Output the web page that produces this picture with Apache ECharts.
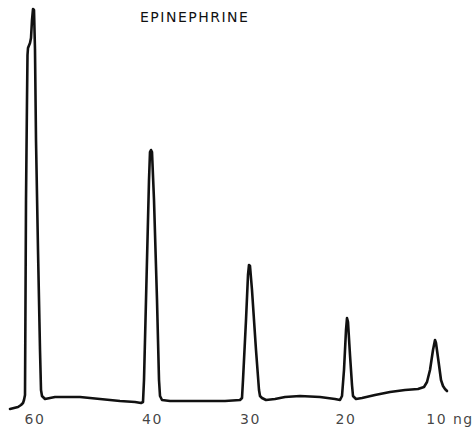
<!DOCTYPE html>
<html>
<head>
<meta charset="utf-8">
<script src="https://cdn.jsdelivr.net/npm/echarts@6/dist/echarts.min.js"></script>
<style>
  html, body { margin: 0; padding: 0; background: #fff; }
  #chart { width: 475px; height: 429px; }
  #chart text { letter-spacing: 1.5px; }
</style>
</head>
<body>
<div id="chart"></div>
<script>
// Retention (arbitrary time units) and detector response (arbitrary units)
const traceTime = [10, 14, 18, 21, 23, 24, 25, 25.5, 26, 27, 27.5, 28, 30, 31, 32, 33, 34, 35, 36, 38, 40, 41, 42, 45, 50, 55,
  80, 100, 120, 135, 141, 143, 144, 146, 149, 150, 151, 152, 154, 157, 159, 160, 162, 170, 200, 225, 240,
  242, 243, 246, 248, 249, 250, 252, 256, 259, 260, 262, 266, 275, 285, 300, 320, 335, 340,
  342, 344, 346, 347, 348, 350, 352, 353, 356, 362, 375, 390, 405, 418, 424,
  427, 430, 433, 435, 436, 439, 441, 443, 445, 447];
const traceResponse = [0, 1, 2, 4, 6, 9, 14, 109, 209, 309, 354, 361, 366, 371, 389, 400, 399, 359, 269, 159, 59, 19, 13, 10, 11, 12,
  12, 10, 8, 7, 6, 7, 29, 109, 229, 257, 259, 257, 209, 109, 29, 13, 9, 8, 8, 8, 9,
  11, 29, 89, 134, 144, 143, 119, 59, 19, 13, 11, 9, 10, 12, 13, 12, 10, 9,
  13, 39, 79, 91, 87, 54, 24, 13, 10, 11, 14, 17, 19, 20, 22,
  27, 39, 59, 69, 66, 44, 29, 23, 20, 18];

// Amount injected for each peak
const peakLabels = ['60', '40', '30', '20', '10 ng'];
const peakLabelTime = [35, 152.5, 250.5, 346, 450];
const labelLevel = -10;

const chartTitle = 'EPINEPHRINE';

const chart = echarts.init(document.getElementById('chart'), null, { renderer: 'svg' });
chart.setOption({
  animation: false,
  backgroundColor: '#fff',
  title: {
    text: chartTitle,
    left: 140,
    top: 10,
    padding: 0,
    textStyle: { fontFamily: 'DejaVu Sans', fontSize: 14, fontWeight: 'normal', color: '#111' }
  },
  grid: { left: 0, right: 0, top: 0, bottom: 0 },
  xAxis: { type: 'value', min: 0, max: 475, show: false },
  yAxis: { type: 'value', min: -20, max: 409, show: false },
  series: [
    {
      type: 'line',
      data: traceTime.map((t, i) => [t, traceResponse[i]]),
      showSymbol: false,
      smooth: false,
      lineStyle: { color: '#111', width: 2.6, join: 'round', cap: 'round' }
    },
    {
      type: 'scatter',
      symbolSize: 0,
      data: peakLabels.map((n, i) => ({ name: n, value: [peakLabelTime[i], labelLevel] })),
      label: {
        show: true,
        position: 'inside',
        formatter: p => p.name,
        fontFamily: 'DejaVu Sans',
        fontSize: 14,
        color: '#111'
      }
    }
  ]
});
</script>
</body>
</html>
